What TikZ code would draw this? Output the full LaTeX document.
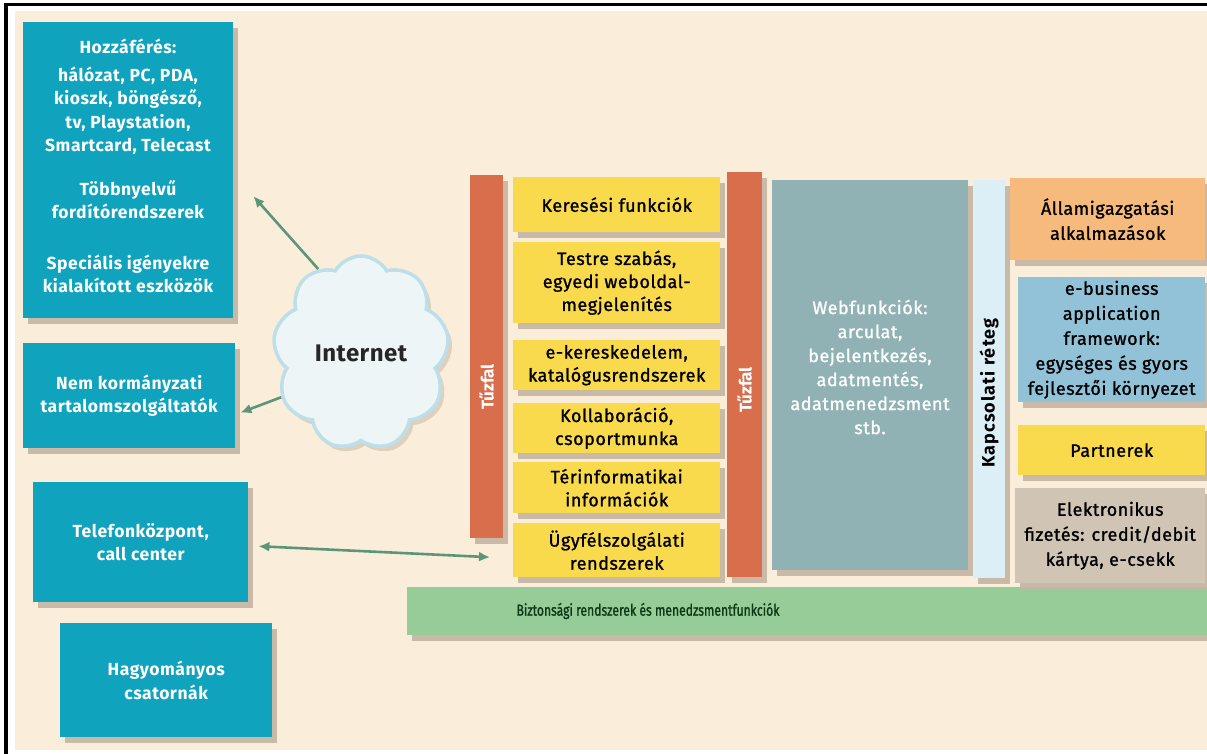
\documentclass[tikz,border=0pt]{standalone}
\usepackage{fontspec}
\setmainfont{Fira Sans}
\newfontfamily\medfont[FakeBold=1.2]{Fira Sans}
\newfontfamily\narrowfont[FakeStretch=0.76,FakeBold=1.2]{Fira Sans}
\usetikzlibrary{shapes.symbols,shadows,arrows.meta}

\definecolor{cream}{HTML}{FAEDDA}
\definecolor{tealc}{HTML}{0FA3BD}
\definecolor{shadowc}{HTML}{C4B5A2}
\definecolor{firec}{HTML}{D86E4C}
\definecolor{yellowc}{HTML}{F8DA4C}
\definecolor{webc}{HTML}{91B2B5}
\definecolor{linkc}{HTML}{DCEFF6}
\definecolor{orangec}{HTML}{F6BA7C}
\definecolor{bluec}{HTML}{92C2D7}
\definecolor{tanc}{HTML}{D0C5B5}
\definecolor{greenc}{HTML}{96CC98}
\definecolor{arrowc}{HTML}{5D9578}
\definecolor{darkgreen}{HTML}{0C3A16}
\definecolor{cloudfill}{HTML}{EEF5F7}
\definecolor{cloudedge}{HTML}{BCDFEA}

% box placed by its top-left and bottom-right corners
\newcommand\rbox[7]{%
  \pgfmathsetmacro\rbw{#5-#3}\pgfmathsetmacro\rbh{#6-#4}%
  \node[#2, minimum width=\rbw pt, minimum height=\rbh pt, anchor=north west] (#1) at (#3,#4) {#7};}

\begin{document}
\begin{tikzpicture}[x=1pt,y=-1pt,
  blk/.style={inner sep=0pt, align=center,
    drop shadow={shadow xshift=5pt, shadow yshift=-6pt, fill=shadowc, opacity=0.9}},
  tealfont/.style={font=\bfseries\fontsize{17.5}{23.5}\selectfont\addfontfeature{LetterSpace=3}},
  tealbox/.style={blk, fill=tealc, text=white, tealfont},
  ybox/.style={blk, fill=yellowc, text=black,
    font=\medfont\fontsize{18}{23}\selectfont\addfontfeature{LetterSpace=3}},
  firebar/.style={blk, fill=firec},
  rlabel/.style={rotate=90, inner sep=0pt},
  rbox/.style={blk, text=black,
    font=\medfont\fontsize{18}{25}\selectfont\addfontfeature{LetterSpace=3}},
  arr/.style={draw=arrowc, line width=2.6pt, -{Latex[length=11pt,width=10pt]}},
  darr/.style={draw=arrowc, line width=2.6pt, {Latex[length=11pt,width=10pt]}-{Latex[length=11pt,width=10pt]}}
]
\useasboundingbox (0,0) rectangle (1207,754);
\fill[white] (0,0) rectangle (1207,754);
\fill[cream] (15,11) rectangle (1207,750);
\fill[black] (4,3) rectangle (1207,6.5);
\fill[black] (4,3) rectangle (8,754);

% left-hand channels
\rbox{access}{tealbox}{23}{22}{233}{318}{}
\node[align=center, inner sep=0pt, text=white, tealfont] (accesstext) at (128,166)
  {Hozzáférés:\\[4pt]hálózat, PC, PDA,\\kioszk, böngésző,\\tv, Playstation,\\Smartcard, Telecast\\[20pt]Többnyelvű\\fordítórendszerek\\[27pt]Speciális igényekre\\kialakított eszközök};
\rbox{content}{tealbox}{23}{343}{235}{448}{Nem kormányzati\\tartalomszolgáltatók}
\rbox{phone}{tealbox}{33}{482}{248}{602}{Telefonközpont,\\call center}
\rbox{trad}{tealbox}{60}{623}{272}{737}{Hagyományos\\csatornák}

% the Internet
\node[cloud, cloud puffs=9, cloud puff arc=120, cloud ignores aspect,
  minimum width=176pt, minimum height=194pt, fill=cloudfill, draw=cloudedge,
  line width=3.5pt, drop shadow={shadow xshift=4pt, shadow yshift=-5pt, fill=shadowc, opacity=0.5},
  font=\bfseries\fontsize{24}{26}\selectfont\addfontfeature{LetterSpace=2}, text=black!85] (net) at (361,353) {Internet};

% security bar along the bottom
\rbox{sec}{blk, fill=greenc}{407}{587}{1207}{635}{}
\node[text=darkgreen, font=\narrowfont\fontsize{16}{18}\selectfont] (seclabel) at (648,611) {Biztonsági rendszerek és menedzsmentfunkciók};

% first firewall
\rbox{fw1}{firebar}{470}{175}{503}{538}{}
\node[rlabel, text=white, font=\bfseries\fontsize{17}{18}\selectfont] (fw1label) at (486.5,387) {Tűzfal};

% portal functions
\rbox{search}{ybox}{513}{177}{720}{232}{Keresési funkciók}
\rbox{custom}{ybox}{513}{242}{720}{323}{Testre szabás,\\egyedi weboldal-\\megjelenítés}
\rbox{ecom}{ybox}{513}{340}{720}{390}{e-kereskedelem,\\katalógusrendszerek}
\rbox{collab}{ybox}{513}{403}{720}{453}{Kollaboráció,\\csoportmunka}
\rbox{geo}{ybox}{513}{462}{720}{513}{Térinformatikai\\információk}
\rbox{service}{ybox}{513}{523}{720}{577}{Ügyfélszolgálati\\rendszerek}

% second firewall
\rbox{fw2}{firebar}{727}{172}{762}{577}{}
\node[rlabel, text=white, font=\bfseries\fontsize{17}{18}\selectfont] (fw2label) at (744.5,390) {Tűzfal};

% web functions
\rbox{web}{blk, fill=webc}{772}{180}{968}{570}{}
\node[align=center, inner sep=0pt, text=white,
  font=\medfont\fontsize{18}{24}\selectfont\addfontfeature{LetterSpace=3}] (webtext) at (870,367)
  {Webfunkciók:\\arculat,\\bejelentkezés,\\adatmentés,\\adatmenedzsment\\stb.};

% connection layer
\rbox{link}{blk, fill=linkc}{973}{180}{1005}{578}{}
\node[rlabel, text=black, font=\bfseries\fontsize{18}{19}\selectfont\addfontfeature{LetterSpace=6}] (linklabel) at (989,393) {Kapcsolati réteg};

% back-end applications
\rbox{gov}{rbox, fill=orangec}{1010}{178}{1205}{260}{Államigazgatási\\alkalmazások}
\rbox{ebiz}{rbox, fill=bluec}{1018}{277}{1205}{402}{e-business\\application\\framework:\\egységes és gyors\\fejlesztői környezet}
\rbox{partner}{rbox, fill=yellowc}{1018}{425}{1205}{475}{Partnerek}
\rbox{pay}{rbox, fill=tanc}{1015}{488}{1205}{583}{Elektronikus\\fizetés: credit/debit\\kártya, e-csekk}

% connectors
\draw[arr] (net.117) -- ([xshift=20pt,yshift=-26pt]access.east);
\draw[arr] (net.209) -- ([xshift=5pt,yshift=-17pt]content.east);
\draw[darr] ([xshift=10pt,yshift=-4pt]phone.east) -- ([xshift=-23pt,yshift=-7pt]service.west);
\end{tikzpicture}
\end{document}
